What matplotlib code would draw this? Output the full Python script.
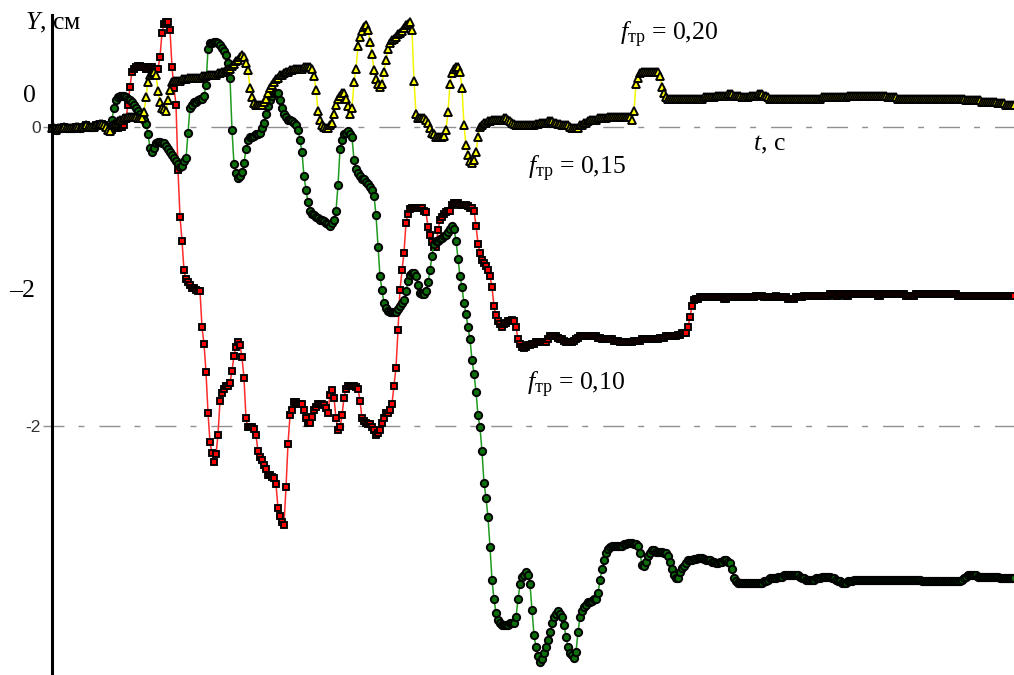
import matplotlib
matplotlib.use("Agg")
import matplotlib.pyplot as plt
import numpy as np

# Lateral displacement Y (cm) of the trajectory for three friction coefficients,
# sampled every DT seconds starting at t = 0.
DT = 0.02

# f_tr = 0.10 (red squares)
y_010 = [
    -0.01, -0.01, -0.02, -0.01, -0.01, -0.01, 0.00, -0.01, -0.01, -0.01,
    -0.01, -0.01, 0.00, 0.00, -0.01, 0.00, 0.00, 0.01, 0.00, 0.00,
    0.00, 0.00, 0.01, 0.01, 0.02, 0.02, 0.01, 0.00, -0.02, -0.03,
    -0.02, -0.01, -0.01, -0.01, 0.00, 0.00, 0.01, 0.06, 0.15, 0.27,
    0.37, 0.39, 0.40, 0.41, 0.41, 0.40, 0.40, 0.39, 0.39, 0.40,
    0.40, 0.39, 0.39, 0.39, 0.47, 0.63, 0.69, 0.70, 0.70, 0.65,
    0.40, 0.26, 0.15, -0.29, -0.60, -0.76, -0.96, -1.02, -1.04, -1.06,
    -1.08, -1.08, -1.09, -1.10, -1.10, -1.34, -1.45, -1.64, -1.91, -2.11,
    -2.18, -2.24, -2.19, -2.06, -1.83, -1.78, -1.75, -1.73, -1.73, -1.71,
    -1.63, -1.53, -1.47, -1.44, -1.46, -1.54, -1.68, -1.95, -2.01, -2.01,
    -2.01, -2.02, -2.06, -2.17, -2.21, -2.23, -2.26, -2.29, -2.33, -2.33,
    -2.34, -2.35, -2.39, -2.55, -2.60, -2.64, -2.66, -2.41, -2.12, -1.93,
    -1.89, -1.84, -1.84, -1.85, -1.85, -1.85, -1.89, -1.95, -1.98, -1.98,
    -1.94, -1.89, -1.87, -1.85, -1.85, -1.85, -1.86, -1.88, -1.91, -1.79,
    -1.76, -1.81, -1.95, -2.03, -2.01, -1.93, -1.81, -1.75, -1.73, -1.73,
    -1.73, -1.73, -1.74, -1.75, -1.83, -1.95, -1.97, -1.98, -1.99, -1.99,
    -2.01, -2.03, -2.06, -2.05, -2.03, -1.98, -1.95, -1.91, -1.91, -1.89,
    -1.85, -1.73, -1.61, -1.36, -1.09, -0.96, -0.84, -0.64, -0.58, -0.55,
    -0.54, -0.54, -0.54, -0.54, -0.54, -0.54, -0.56, -0.57, -0.67, -0.72,
    -0.77, -0.80, -0.80, -0.69, -0.62, -0.60, -0.58, -0.57, -0.56, -0.56,
    -0.52, -0.51, -0.51, -0.51, -0.52, -0.52, -0.52, -0.52, -0.53, -0.54,
    -0.54, -0.56, -0.66, -0.78, -0.84, -0.89, -0.91, -0.93, -0.96, -1.00,
    -1.07, -1.20, -1.26, -1.30, -1.32, -1.34, -1.32, -1.31, -1.30, -1.30,
    -1.29, -1.30, -1.34, -1.42, -1.45, -1.47, -1.48, -1.47, -1.46, -1.46,
    -1.45, -1.45, -1.44, -1.44, -1.44, -1.44, -1.44, -1.44, -1.42, -1.40,
    -1.40, -1.40, -1.40, -1.41, -1.42, -1.42, -1.43, -1.44, -1.44, -1.44,
    -1.44, -1.43, -1.42, -1.41, -1.40, -1.40, -1.40, -1.40, -1.40, -1.40,
    -1.40, -1.40, -1.40, -1.41, -1.41, -1.42, -1.42, -1.42, -1.42, -1.42,
    -1.42, -1.43, -1.43, -1.43, -1.44, -1.44, -1.44, -1.44, -1.44, -1.44,
    -1.44, -1.43, -1.43, -1.43, -1.43, -1.42, -1.42, -1.42, -1.42, -1.42,
    -1.42, -1.42, -1.42, -1.42, -1.41, -1.41, -1.41, -1.40, -1.40, -1.40,
    -1.40, -1.40, -1.40, -1.39, -1.39, -1.38, -1.38, -1.38, -1.34, -1.27,
    -1.20, -1.16, -1.15, -1.15, -1.14, -1.14, -1.14, -1.14, -1.14, -1.14,
    -1.14, -1.14, -1.14, -1.14, -1.14, -1.14, -1.15, -1.15, -1.14, -1.14,
    -1.14, -1.14, -1.14, -1.14, -1.14, -1.14, -1.14, -1.14, -1.14, -1.14,
    -1.14, -1.14, -1.13, -1.13, -1.13, -1.13, -1.14, -1.14, -1.14, -1.14,
    -1.14, -1.14, -1.13, -1.14, -1.14, -1.14, -1.14, -1.14, -1.15, -1.15,
    -1.15, -1.15, -1.14, -1.14, -1.14, -1.14, -1.13, -1.13, -1.13, -1.13,
    -1.13, -1.13, -1.13, -1.13, -1.13, -1.13, -1.13, -1.13, -1.13, -1.12,
    -1.12, -1.12, -1.13, -1.13, -1.12, -1.12, -1.12, -1.13, -1.13, -1.12,
    -1.12, -1.12, -1.12, -1.12, -1.12, -1.12, -1.12, -1.12, -1.12, -1.12,
    -1.12, -1.12, -1.12, -1.13, -1.13, -1.12, -1.12, -1.12, -1.12, -1.12,
    -1.12, -1.12, -1.12, -1.12, -1.12, -1.12, -1.12, -1.13, -1.13, -1.13,
    -1.13, -1.13, -1.12, -1.12, -1.12, -1.12, -1.12, -1.12, -1.12, -1.12,
    -1.12, -1.12, -1.12, -1.12, -1.12, -1.12, -1.12, -1.12, -1.12, -1.12,
    -1.12, -1.12, -1.12, -1.13, -1.13, -1.13, -1.13, -1.13, -1.13, -1.13,
    -1.13, -1.13, -1.13, -1.13, -1.13, -1.13, -1.13, -1.13, -1.13, -1.13,
    -1.13, -1.13, -1.13, -1.13, -1.13, -1.13, -1.13, -1.13, -1.13, -1.13,
    -1.13, -1.13,
]

# f_tr = 0.15 (green circles)
y_015 = [
    -0.01, -0.01, -0.02, -0.01, -0.01, -0.01, 0.00, -0.01, -0.01, -0.01,
    -0.01, -0.01, 0.00, 0.00, -0.01, 0.00, 0.00, 0.01, 0.00, 0.00,
    0.00, 0.00, 0.01, 0.01, 0.02, 0.02, 0.01, 0.00, -0.02, -0.03,
    0.05, 0.13, 0.18, 0.20, 0.21, 0.21, 0.21, 0.20, 0.19, 0.18,
    0.17, 0.15, 0.13, 0.11, 0.09, 0.07, 0.05, 0.02, -0.05, -0.14,
    -0.17, -0.14, -0.11, -0.10, -0.10, -0.11, -0.11, -0.13, -0.15, -0.17,
    -0.19, -0.21, -0.23, -0.25, -0.27, -0.26, -0.23, -0.21, -0.04, 0.13,
    0.15, 0.17, 0.17, 0.18, 0.19, 0.19, 0.21, 0.28, 0.52, 0.56,
    0.56, 0.57, 0.57, 0.56, 0.55, 0.53, 0.51, 0.48, 0.43, 0.33,
    -0.02, -0.25, -0.31, -0.34, -0.33, -0.30, -0.24, -0.15, -0.09, -0.07,
    -0.07, -0.06, -0.05, -0.05, -0.04, -0.01, 0.03, 0.09, 0.14, 0.18,
    0.21, 0.23, 0.23, 0.23, 0.18, 0.13, 0.09, 0.07, 0.05, 0.05,
    0.04, 0.03, 0.01, -0.02, -0.09, -0.17, -0.33, -0.42, -0.50, -0.56,
    -0.58, -0.59, -0.60, -0.61, -0.62, -0.62, -0.63, -0.64, -0.65, -0.66,
    -0.64, -0.62, -0.56, -0.39, -0.15, -0.09, -0.05, -0.04, -0.03, -0.05,
    -0.07, -0.22, -0.28, -0.31, -0.33, -0.35, -0.35, -0.37, -0.38, -0.40,
    -0.42, -0.46, -0.59, -0.80, -1.00, -1.09, -1.18, -1.21, -1.23, -1.24,
    -1.24, -1.24, -1.24, -1.22, -1.20, -1.18, -1.16, -1.10, -1.03, -0.99,
    -0.98, -0.98, -1.00, -1.06, -1.11, -1.12, -1.12, -1.10, -1.04, -0.96,
    -0.86, -0.78, -0.76, -0.76, -0.75, -0.74, -0.73, -0.72, -0.70, -0.68,
    -0.66, -0.68, -0.76, -0.88, -1.00, -1.07, -1.18, -1.25, -1.34, -1.42,
    -1.56, -1.65, -1.77, -1.93, -2.01, -2.17, -2.38, -2.48, -2.61, -2.81,
    -3.03, -3.16, -3.25, -3.30, -3.32, -3.33, -3.33, -3.33, -3.33, -3.32,
    -3.32, -3.32, -3.28, -3.16, -3.06, -3.01, -3.00, -2.98, -3.00, -3.06,
    -3.23, -3.40, -3.48, -3.54, -3.58, -3.56, -3.52, -3.48, -3.43, -3.38,
    -3.32, -3.28, -3.26, -3.24, -3.26, -3.28, -3.33, -3.41, -3.48, -3.52,
    -3.53, -3.55, -3.51, -3.38, -3.28, -3.24, -3.21, -3.20, -3.18, -3.18,
    -3.17, -3.16, -3.16, -3.12, -3.03, -2.96, -2.90, -2.85, -2.82, -2.81,
    -2.80, -2.80, -2.80, -2.80, -2.80, -2.80, -2.79, -2.79, -2.78, -2.78,
    -2.78, -2.79, -2.79, -2.80, -2.85, -2.93, -2.94, -2.91, -2.87, -2.85,
    -2.83, -2.83, -2.84, -2.84, -2.84, -2.84, -2.85, -2.85, -2.87, -2.91,
    -2.96, -3.00, -3.02, -3.02, -2.98, -2.95, -2.94, -2.92, -2.90, -2.90,
    -2.90, -2.89, -2.89, -2.88, -2.88, -2.88, -2.89, -2.90, -2.90, -2.90,
    -2.91, -2.91, -2.92, -2.92, -2.91, -2.91, -2.90, -2.90, -2.91, -2.92,
    -2.96, -3.02, -3.04, -3.05, -3.05, -3.05, -3.05, -3.05, -3.05, -3.05,
    -3.05, -3.05, -3.05, -3.05, -3.05, -3.05, -3.04, -3.04, -3.03, -3.02,
    -3.02, -3.02, -3.02, -3.01, -3.01, -3.01, -3.00, -3.00, -3.00, -3.00,
    -3.00, -3.00, -3.00, -3.00, -3.01, -3.02, -3.02, -3.03, -3.03, -3.03,
    -3.03, -3.03, -3.02, -3.02, -3.02, -3.01, -3.01, -3.01, -3.01, -3.01,
    -3.02, -3.02, -3.03, -3.04, -3.04, -3.05, -3.05, -3.05, -3.04, -3.04,
    -3.04, -3.03, -3.03, -3.03, -3.03, -3.03, -3.03, -3.03, -3.03, -3.03,
    -3.03, -3.03, -3.03, -3.03, -3.03, -3.03, -3.03, -3.03, -3.03, -3.03,
    -3.03, -3.03, -3.03, -3.03, -3.03, -3.03, -3.03, -3.03, -3.03, -3.03,
    -3.03, -3.03, -3.03, -3.03, -3.03, -3.04, -3.04, -3.04, -3.04, -3.04,
    -3.04, -3.04, -3.04, -3.04, -3.04, -3.04, -3.04, -3.04, -3.04, -3.04,
    -3.04, -3.04, -3.04, -3.04, -3.04, -3.03, -3.02, -3.01, -3.00, -3.00,
    -3.00, -3.00, -3.00, -3.01, -3.01, -3.01, -3.01, -3.01, -3.01, -3.01,
    -3.01, -3.01, -3.01, -3.01, -3.02, -3.02, -3.02, -3.02, -3.02, -3.02,
    -3.02, -3.02,
]

# f_tr = 0.20 (yellow triangles)
y_020 = [
    -0.01, -0.01, -0.02, -0.01, -0.01, -0.01, 0.00, -0.01, -0.01, -0.01,
    -0.01, -0.01, 0.00, 0.00, -0.01, 0.00, 0.00, 0.01, 0.00, 0.00,
    0.00, 0.00, 0.01, 0.01, 0.02, 0.02, 0.01, 0.00, -0.02, -0.03,
    0.01, 0.02, 0.03, 0.04, 0.05, 0.05, 0.06, 0.06, 0.07, 0.07,
    0.07, 0.07, 0.07, 0.06, 0.06, 0.06, 0.10, 0.20, 0.30, 0.35,
    0.36, 0.37, 0.35, 0.24, 0.17, 0.13, 0.12, 0.11, 0.18, 0.25,
    0.30, 0.31, 0.31, 0.31, 0.31, 0.32, 0.32, 0.32, 0.33, 0.33,
    0.33, 0.33, 0.33, 0.33, 0.33, 0.34, 0.34, 0.34, 0.35, 0.35,
    0.35, 0.35, 0.35, 0.36, 0.36, 0.37, 0.37, 0.38, 0.39, 0.39,
    0.41, 0.42, 0.44, 0.45, 0.47, 0.48, 0.47, 0.43, 0.38, 0.26,
    0.20, 0.16, 0.15, 0.15, 0.15, 0.15, 0.17, 0.19, 0.23, 0.26,
    0.28, 0.30, 0.32, 0.33, 0.35, 0.35, 0.36, 0.37, 0.37, 0.38,
    0.38, 0.39, 0.39, 0.39, 0.39, 0.39, 0.40, 0.40, 0.40, 0.40,
    0.39, 0.34, 0.25, 0.11, 0.05, 0.01, 0.00, -0.01, -0.01, 0.01,
    0.03, 0.09, 0.15, 0.19, 0.21, 0.23, 0.23, 0.19, 0.14, 0.09,
    0.13, 0.30, 0.39, 0.54, 0.60, 0.64, 0.67, 0.68, 0.65, 0.57,
    0.49, 0.38, 0.32, 0.29, 0.27, 0.29, 0.37, 0.45, 0.52, 0.56,
    0.58, 0.59, 0.60, 0.62, 0.63, 0.64, 0.66, 0.68, 0.69, 0.70,
    0.65, 0.31, 0.09, 0.06, 0.06, 0.06, 0.06, 0.05, 0.03, -0.01,
    -0.04, -0.05, -0.07, -0.07, -0.07, -0.07, -0.06, -0.02, 0.10, 0.29,
    0.36, 0.39, 0.40, 0.40, 0.37, 0.26, 0.01, -0.12, -0.19, -0.23,
    -0.24, -0.22, -0.17, -0.07, 0.00, 0.01, 0.03, 0.03, 0.04, 0.04,
    0.05, 0.05, 0.05, 0.05, 0.05, 0.05, 0.06, 0.06, 0.05, 0.04,
    0.03, 0.02, 0.01, 0.01, 0.01, 0.01, 0.01, 0.01, 0.01, 0.01,
    0.01, 0.01, 0.02, 0.02, 0.03, 0.03, 0.03, 0.03, 0.04, 0.04,
    0.04, 0.03, 0.03, 0.02, 0.02, 0.01, 0.01, 0.01, 0.01, 0.00,
    -0.01, -0.01, -0.01, -0.01, 0.01, 0.01, 0.03, 0.03, 0.04, 0.05,
    0.05, 0.05, 0.05, 0.06, 0.06, 0.06, 0.06, 0.06, 0.07, 0.07,
    0.07, 0.07, 0.07, 0.07, 0.07, 0.07, 0.07, 0.07, 0.07, 0.07,
    0.05, 0.11, 0.29, 0.33, 0.36, 0.37, 0.37, 0.37, 0.37, 0.37,
    0.37, 0.37, 0.37, 0.37, 0.34, 0.27, 0.23, 0.20, 0.19, 0.19,
    0.19, 0.19, 0.19, 0.19, 0.19, 0.19, 0.19, 0.19, 0.19, 0.19,
    0.19, 0.19, 0.19, 0.19, 0.19, 0.19, 0.20, 0.20, 0.20, 0.20,
    0.20, 0.20, 0.21, 0.21, 0.21, 0.21, 0.21, 0.21, 0.22, 0.22,
    0.22, 0.21, 0.21, 0.21, 0.21, 0.20, 0.20, 0.20, 0.20, 0.21,
    0.21, 0.21, 0.21, 0.22, 0.22, 0.22, 0.21, 0.21, 0.20, 0.19,
    0.19, 0.19, 0.19, 0.19, 0.19, 0.19, 0.19, 0.19, 0.19, 0.19,
    0.19, 0.19, 0.19, 0.19, 0.19, 0.19, 0.19, 0.19, 0.19, 0.19,
    0.19, 0.19, 0.19, 0.19, 0.19, 0.20, 0.20, 0.20, 0.20, 0.20,
    0.20, 0.20, 0.20, 0.20, 0.20, 0.20, 0.20, 0.20, 0.21, 0.21,
    0.21, 0.21, 0.21, 0.21, 0.21, 0.21, 0.21, 0.21, 0.21, 0.21,
    0.21, 0.21, 0.21, 0.21, 0.21, 0.21, 0.21, 0.21, 0.20, 0.20,
    0.20, 0.20, 0.20, 0.19, 0.19, 0.19, 0.19, 0.19, 0.19, 0.19,
    0.19, 0.19, 0.19, 0.19, 0.19, 0.19, 0.19, 0.19, 0.19, 0.19,
    0.19, 0.19, 0.19, 0.19, 0.19, 0.19, 0.19, 0.19, 0.19, 0.19,
    0.19, 0.19, 0.19, 0.19, 0.19, 0.19, 0.19, 0.18, 0.18, 0.18,
    0.18, 0.18, 0.18, 0.18, 0.18, 0.17, 0.17, 0.17, 0.17, 0.17,
    0.17, 0.17, 0.17, 0.16, 0.16, 0.16, 0.16, 0.15, 0.15, 0.15,
    0.15, 0.15,
]

series = [
    # values, line colour, marker, face colour, marker size, label, label position (t, Y)
    (y_010, "#ff2a2a", "s", "#ff0000", 4.7, "0,10", (4.75, -1.76)),
    (y_015, "#1f9a1f", "o", "#0b6e0b", 5.3, "0,15", (4.76, -0.32)),
    (y_020, "#f5f500", "^", "#ffff00", 6.0, "0,20", (5.68, 0.58)),
]

plt.rcParams["mathtext.fontset"] = "custom"
plt.rcParams["mathtext.rm"] = "Liberation Serif"
plt.rcParams["mathtext.it"] = "Liberation Serif:italic"
serif = "Liberation Serif"

fig = plt.figure(figsize=(10.14, 6.75), dpi=100)
ax = fig.add_axes([0, 0, 1, 1])
ax.set_xlim(-0.52, 9.62)
ax.set_ylim(-3.666, 0.8495)

# reference levels 0 and -2 cm, dash-dot grey
ax.hlines([0, -2], -0.09, 9.62, colors="#8f8f8f", linewidth=1.0,
          linestyles=[(0, (15.1, 10.1, 4.3, 10.8))], zorder=1)

for vals, lcol, mk, fcol, ms, lab, pos in series:
    t = np.arange(len(vals)) * DT
    ax.plot(t, vals, color=lcol, lw=1.1, marker=mk, ms=ms,
            mfc=fcol, mec="black", mew=1.35, zorder=3)
    ax.text(pos[0], pos[1], r"$f_{\mathrm{тр}}$ = " + lab, family=serif,
            fontsize=18.5, ha="left", va="baseline", zorder=5)

# vertical axis only
for side in ["top", "right", "bottom"]:
    ax.spines[side].set_visible(False)
ax.spines["left"].set_position(("data", 0))
ax.spines["left"].set_bounds(-3.67, 0.75)
ax.spines["left"].set_linewidth(2.2)
ax.spines["left"].set_zorder(4)
ax.set_xticks([])
ax.set_yticks([0, -2])
ax.set_yticklabels(["0", "-2"], family="Liberation Sans", fontsize=12.5,
                   color="#333333")
ax.tick_params(axis="y", length=0, pad=8)
ax.patch.set_visible(False)

ax.text(-0.27, 0.65, r"$Y$, см", family=serif, fontsize=18.5,
        ha="left", va="baseline", zorder=2)
ax.text(7.01, -0.154, r"$t$, с", family=serif, fontsize=18.5,
        ha="left", va="baseline")
ax.text(-0.23, 0.167, "0", family=serif, fontsize=18.5,
        ha="center", va="baseline")
ax.text(-0.30, -1.137, "\u20132", family=serif, fontsize=18.5,
        ha="center", va="baseline")

fig.savefig("out.png", dpi=100, facecolor="white")
